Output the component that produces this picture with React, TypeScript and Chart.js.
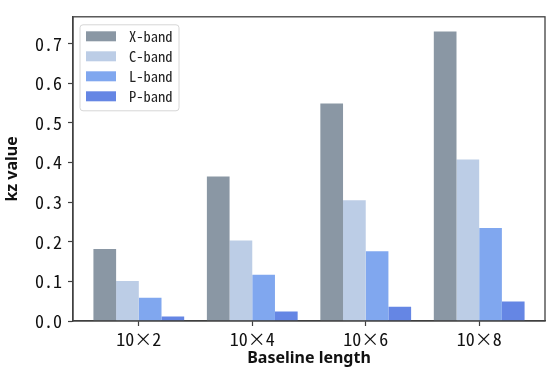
import React, { useEffect, useRef } from "react";
import { Chart, registerables } from "chart.js";

Chart.register(...registerables);

const categories = ["10×2", "10×4", "10×6", "10×8"];
const seriesNames = ["X-band", "C-band", "L-band", "P-band"];
const xBand = [0.182, 0.365, 0.549, 0.731];
const cBand = [0.101, 0.203, 0.305, 0.408];
const lBand = [0.059, 0.117, 0.176, 0.235];
const pBand = [0.0115, 0.024, 0.036, 0.049];
const seriesColors = ["#8a97a4", "#bccde6", "#80a7ef", "#6586e4"];
const yTicks = [0, 0.1, 0.2, 0.3, 0.4, 0.5, 0.6, 0.7];
const yMax = 0.768;

const monoFamily = "'Noto Sans Mono CJK SC', 'Noto Sans CJK SC', 'Noto Sans', sans-serif";
const tickFont = { family: monoFamily, size: 18 };
const titleFont = { family: "'Noto Sans', 'Open Sans', sans-serif", size: 16, weight: "bold" as const };
const spineColor = "#404040";

const frameAndLegend = {
  id: "frameAndLegend",
  afterDraw(chart: any) {
    const { ctx, chartArea } = chart;
    ctx.save();
    ctx.strokeStyle = spineColor;
    ctx.lineWidth = 1.3;
    ctx.strokeRect(chartArea.left, chartArea.top, chartArea.right - chartArea.left, chartArea.bottom - chartArea.top);

    // legend box inside plot
    const lx = chartArea.left + 7;
    const ly = chartArea.top + 8;
    const lw = 99;
    const lh = 86;
    ctx.beginPath();
    if ((ctx as any).roundRect) (ctx as any).roundRect(lx, ly, lw, lh, 3);
    else ctx.rect(lx, ly, lw, lh);
    ctx.fillStyle = "rgba(255,255,255,0.85)";
    ctx.fill();
    ctx.strokeStyle = "#d6d6d6";
    ctx.lineWidth = 1;
    ctx.stroke();

    ctx.font = "14.5px " + monoFamily;
    ctx.textBaseline = "middle";
    ctx.textAlign = "left";
    chart.data.datasets.forEach((ds: any, i: number) => {
      const cy = ly + 11.5 + i * 20;
      ctx.fillStyle = ds.backgroundColor;
      ctx.fillRect(lx + 6, cy - 5, 30, 10);
      ctx.fillStyle = "#222";
      ctx.fillText(ds.label, lx + 49, cy + 0.5);
    });
    ctx.restore();
  },
};

export default function App() {
  const ref = useRef<HTMLCanvasElement | null>(null);

  useEffect(() => {
    document.body.style.margin = "0";
    const all = [xBand, cBand, lBand, pBand];
    const chart = new Chart(ref.current as HTMLCanvasElement, {
      type: "bar",
      data: {
        datasets: all.map((arr, i) => ({
          label: seriesNames[i],
          data: arr.map((v, j) => ({ x: j, y: v })),
          backgroundColor: seriesColors[i],
          borderWidth: 0,
          categoryPercentage: 0.8,
          barPercentage: 1.0,
        })),
      },
      options: {
        animation: false,
        responsive: false,
        layout: { padding: { top: 4, right: 5, left: 0, bottom: 0 } },
        plugins: { legend: { display: false }, tooltip: { enabled: false } },
        scales: {
          x: {
            type: "linear",
            offset: false,
            min: -0.58,
            max: 3.58,
            afterBuildTicks: (scale: any) => {
              scale.ticks = categories.map((_, i) => ({ value: i }));
            },
            afterFit: (scale: any) => {
              scale.height = 53;
            },
            ticks: {
              autoSkip: false,
              maxRotation: 0,
              padding: 2,
              color: "#111",
              font: tickFont,
              callback: (v: any) => categories[Math.round(Number(v))] ?? "",
            },
            grid: { display: true, drawOnChartArea: false, offset: false, tickLength: 5, color: spineColor, tickWidth: 1.2 },
            border: { display: true, color: spineColor, width: 1.3 },
            title: { display: true, text: "Baseline length", color: "#111", font: titleFont, padding: { top: 0, bottom: 6 } },
          },
          y: {
            type: "linear",
            min: 0,
            max: yMax,
            afterBuildTicks: (scale: any) => {
              scale.ticks = yTicks.map((v) => ({ value: v }));
            },
            afterFit: (scale: any) => {
              scale.width = 73;
            },
            ticks: {
              padding: 6,
              color: "#111",
              font: tickFont,
              callback: (v: any) => Number(v).toFixed(1),
            },
            grid: { display: true, drawOnChartArea: false, tickLength: 5, color: spineColor, tickWidth: 1.2 },
            border: { display: true, color: spineColor, width: 1.3 },
            title: { display: true, text: "kz value", color: "#111", font: titleFont, padding: { top: 3, bottom: 0 } },
          },
        },
      },
      plugins: [frameAndLegend],
    } as any);
    return () => chart.destroy();
  }, []);

  return (
    <div style={{ width: 550, height: 374 }}>
      <canvas ref={ref} width={550} height={374} style={{ display: "block" }} />
    </div>
  );
}
